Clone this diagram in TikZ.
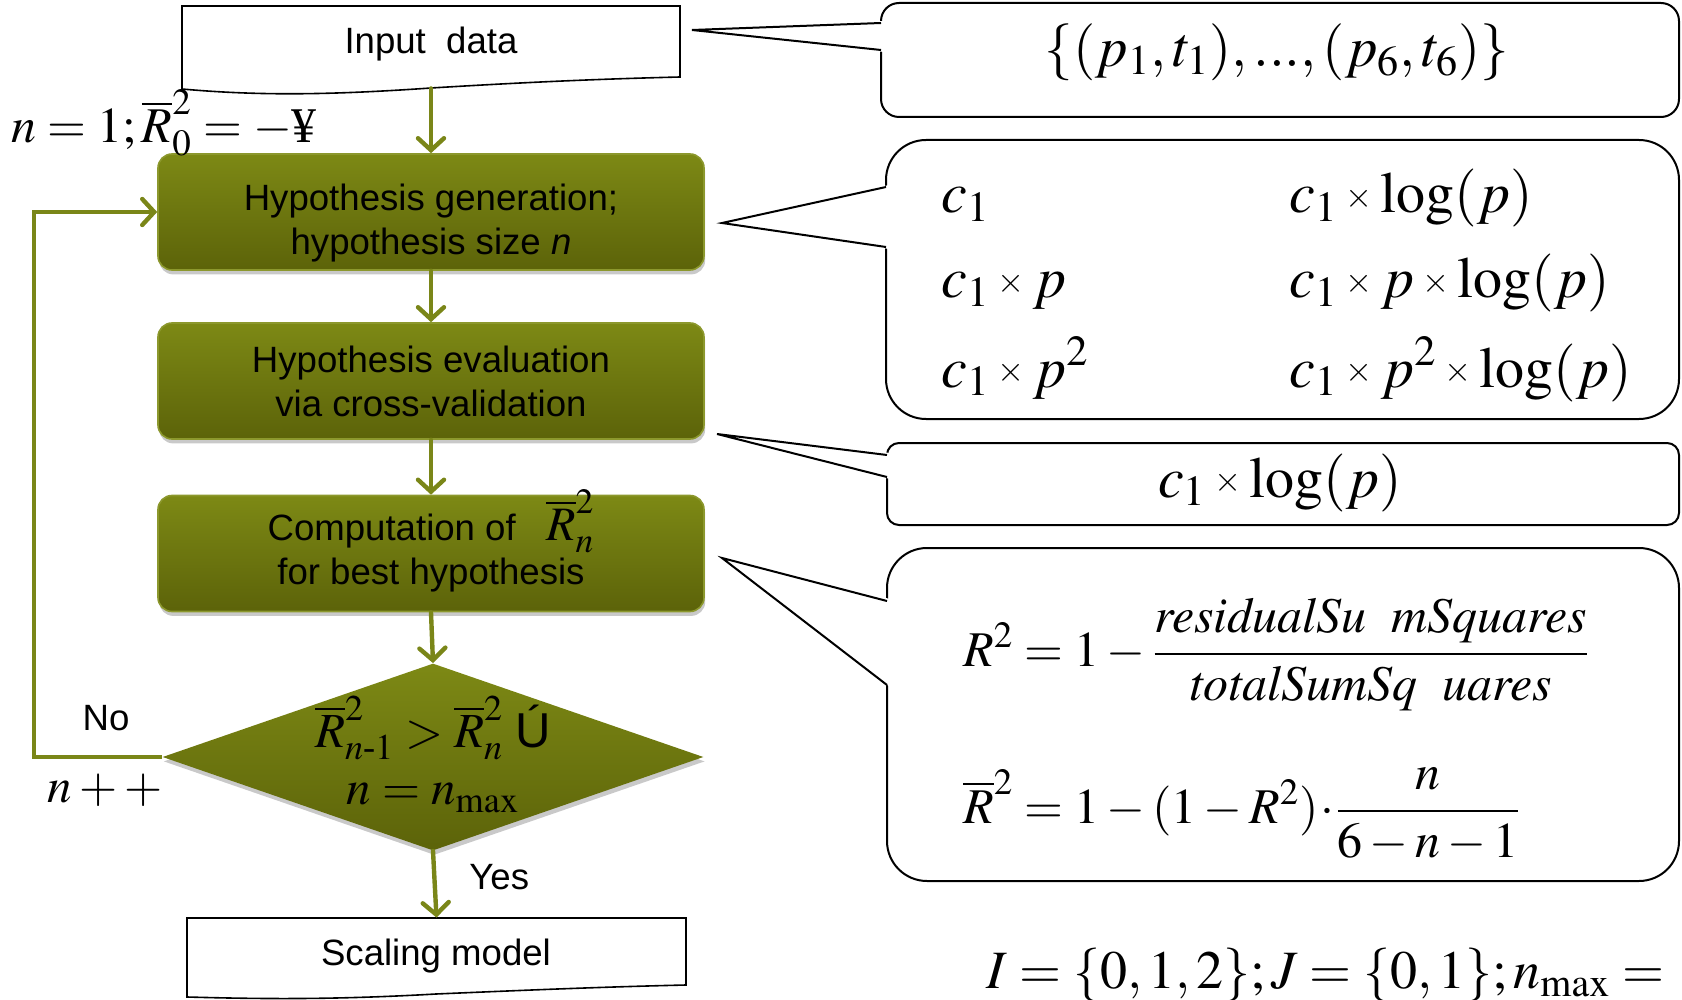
\documentclass[tikz,border=0pt]{standalone}
\usepackage{amsmath}
\usepackage{graphicx}
\usepackage{mathptmx}
\usepackage{fontspec}
\setmainfont{Liberation Serif}
\setsansfont{Liberation Sans}
\usepackage{xcolor}
\usetikzlibrary{shapes.geometric,arrows.meta,shadows}
\definecolor{olivetop}{RGB}{125,137,21}
\definecolor{olivebot}{RGB}{92,99,9}
\definecolor{oliveline}{RGB}{122,134,24}
\definecolor{oliveedge}{RGB}{140,152,45}
\newcommand{\tms}{\mathbin{\vcenter{\hbox{\scalebox{0.6}{$\times$}}}}}

\begin{document}
\begin{tikzpicture}[x=0.5pt,y=0.5pt,yscale=-1,xscale=1,
  flow/.style={draw=oliveline,line width=2.2pt,line cap=round,-{Straight Barb[length=6pt,width=13pt,line cap=round]}},
  stepbox/.style={rectangle,rounded corners=7pt,draw=oliveedge,line width=0.8pt,top color=olivetop,bottom color=olivebot,
    minimum width=273pt,minimum height=58pt,align=center,inner sep=0pt,
    font=\sffamily\fontsize{18.3}{22}\selectfont,
    drop shadow={shadow xshift=0.6pt,shadow yshift=-2.2pt,opacity=0.3,fill=black!70}},
  decbox/.style={diamond,inner sep=0pt,top color=olivetop,bottom color=olivebot,
    minimum width=270.5pt,minimum height=93.5pt,
    drop shadow={shadow xshift=0.6pt,shadow yshift=-2.2pt,opacity=0.3,fill=black!70}},
  callbox/.style={rectangle,draw,line width=1pt,fill=white,inner sep=0pt},
  sanstxt/.style={inner sep=0pt,font=\sffamily\fontsize{18.3}{22}\selectfont},
  mathtxt/.style={inner sep=0pt,font=\fontsize{#1}{#1}\selectfont},
  mathtxt/.default=24.5
]
\useasboundingbox (0,0) rectangle (1682,1000);

%Shape: Document [id:input]
\node[inner sep=0pt,minimum width=249pt,minimum height=41pt] (input) at (431,47) {};
\draw[line width=0.8pt] (182,89) -- (182,6) -- (680,6) -- (680,77) .. controls (600,79) and (530,82) .. (431,88) .. controls (330,95) and (260,96) .. cycle ;
\node[sanstxt] at (431,44) {Input\ \ data};

%Shape: Document [id:out]
\node[inner sep=0pt,minimum width=249.5pt,minimum height=37pt] (out) at (436.5,955) {};
\draw[line width=0.8pt] (187,997) -- (187,918) -- (686,918) -- (686,985) .. controls (600,987) and (530,990) .. (436,994) .. controls (330,1000) and (260,999) .. cycle ;
\node[sanstxt] at (436,956) {Scaling model};

%Shape: Rounded Rectangle [id:gen]
\node[stepbox] (gen) at (431,212) {\rule{0pt}{24pt}Hypothesis generation;\\hypothesis size \textit{n}};
%Shape: Rounded Rectangle [id:eval]
\node[stepbox] (eval) at (431,381) {Hypothesis evaluation\\via cross-validation};
%Shape: Rounded Rectangle [id:comp]
\node[stepbox] (comp) at (431,553.5) {Computation of \ \ \raisebox{0pt}[0pt][0pt]{\fontsize{24}{22}\selectfont$\overline{R}^{2}_{n}$}\\for best hypothesis};
%Shape: Diamond [id:dec]
\node[decbox] (dec) at (433,757) {};
\node[mathtxt] at (433,728) {$\overline{R}^{2}_{n\text{-}1} > \overline{R}^{2}_{n}$ \textsf{Ú}};
\node[mathtxt] at (433,798) {$n = n_{\max}$};

%Straight Lines with arrows
\draw[flow] (input.south) -- (gen.north);
\draw[flow] (gen.south) -- (eval.north);
\draw[flow] (eval.south) -- (comp.north);
\draw[flow] (comp.south) -- (dec.north);
\draw[flow] (dec.south) -- (out.north);
\draw[flow,line cap=butt] (dec.west) -- ++(-128,0) |- (gen.west);

% Text Node
\node[mathtxt=25,anchor=base west] (init) at (11,143) {$n = 1; \overline{R}^{2}_{0} = -\mbox{¥}$};
% Text Node
\node[sanstxt] (no) at (106,718) {No};
% Text Node
\node[mathtxt] (inc) at (105,790) {$n + {+}$};
% Text Node
\node[sanstxt,anchor=west] (yes) at (469,877) {Yes};

%Shape: Callout [id:cdata]
\node[callbox,rounded corners=9pt,minimum width=399pt,minimum height=57pt] (cdata) at (1280,60) {};
\fill[white] (692,30) -- (884,21) -- (884,52) -- cycle ;
\draw[line width=1pt] (881,23) -- (692,30) -- (881,50) ;
\node[mathtxt=28.5] at (1277,52) {$\{(p_1,t_1),...,(p_6,t_6)\}$};

%Shape: Callout [id:cfun]
\node[callbox,rounded corners=20pt,minimum width=396.5pt,minimum height=139.5pt] (cfun) at (1282.5,279.5) {};
\fill[white] (722,223) -- (889,185) -- (889,249) -- cycle ;
\draw[line width=1pt] (886,187) -- (722,223) -- (886,247) ;
% Text Node
\node[mathtxt=29,anchor=base west] at (941,213) {$c_1$};
% Text Node
\node[mathtxt=29,anchor=base west] at (941,298) {$c_1 \tms p$};
% Text Node
\node[mathtxt=29,anchor=base west] at (941,387) {$c_1 \tms p^2$};
% Text Node
\node[mathtxt=29,anchor=base west] at (1289,213) {$c_1 \tms \log(p)$};
% Text Node
\node[mathtxt=29,anchor=base west] at (1289,298) {$c_1 \tms p \tms \log(p)$};
% Text Node
\node[mathtxt=29,anchor=base west] at (1289,387) {$c_1 \tms p^2 \tms \log(p)$};

%Shape: Callout [id:cbest]
\node[callbox,rounded corners=6pt,minimum width=396pt,minimum height=41pt] (cbest) at (1283,484) {};
\fill[white] (717,434) -- (890,453) -- (890,479) -- cycle ;
\draw[line width=1pt] (887,455) -- (717,434) -- (887,477) ;
\node[mathtxt=29,anchor=base] at (1280,497) {$c_1 \tms \log(p)$};

%Shape: Callout [id:cfit]
\node[callbox,rounded corners=20pt,minimum width=396pt,minimum height=166.5pt] (cfit) at (1283,714.5) {};
\fill[white] (722,558) -- (890,599) -- (890,687) -- cycle ;
\draw[line width=1pt] (887,601) -- (722,558) -- (887,685) ;
% Text Node
\node[mathtxt=25,anchor=base west] at (963,666) {$R^{2} = 1 - \dfrac{\mathit{residualSu}\ \ \mathit{mSquares}}{\mathit{totalSumSq}\ \ \mathit{uares}}$};
% Text Node
\node[mathtxt=25,anchor=base west] at (963,823) {$\overline{R}^{2} = 1 - (1 - R^{2})\!\cdot\! \dfrac{n}{6 - n - 1}$};

% Text Node
\node[mathtxt=27,anchor=base west] (sets) at (986,988) {$I = \{0,1,2\}; J = \{0,1\}; n_{\max} =$};

\end{tikzpicture}
\end{document}
